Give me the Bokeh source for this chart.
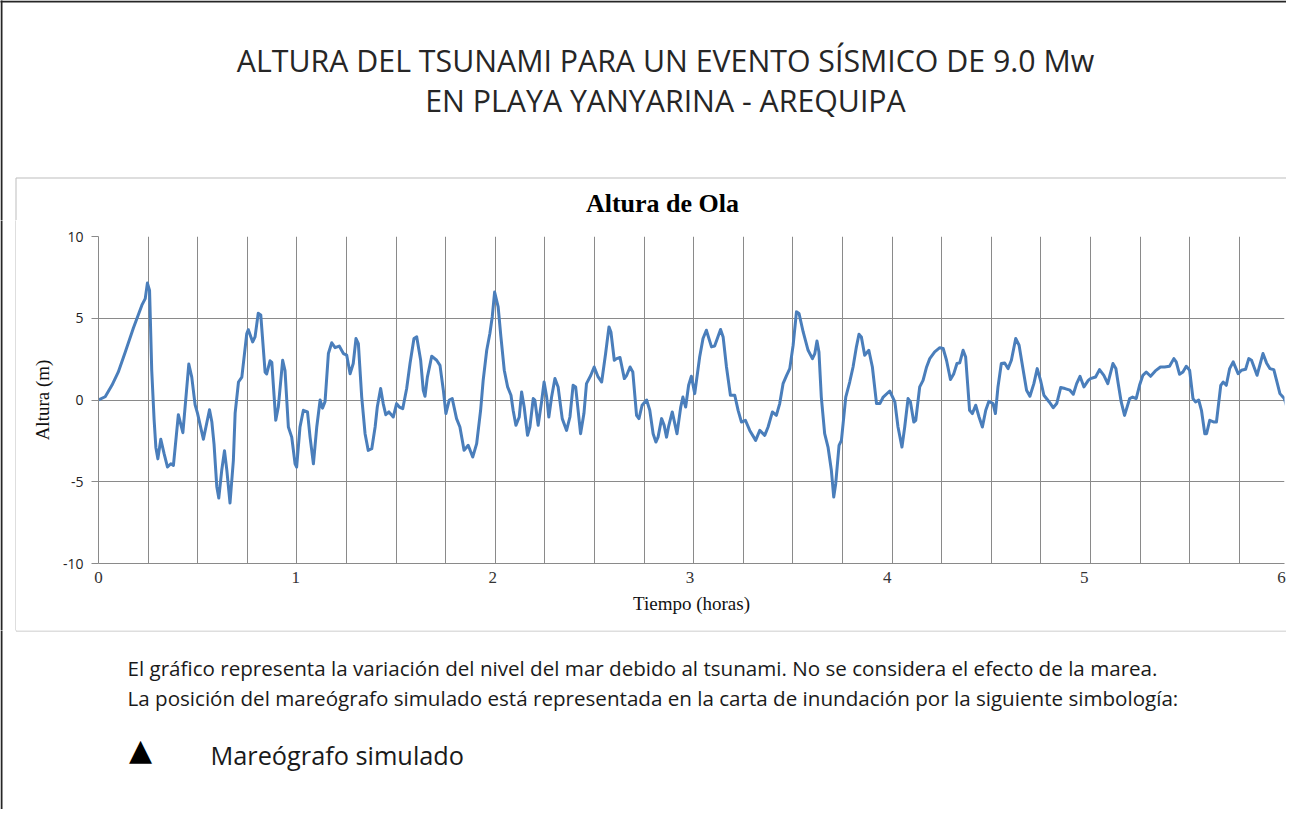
from bokeh.plotting import figure
from bokeh.layouts import column, row
from bokeh.models import Range1d, FixedTicker, Arrow
from bokeh.core.properties import value
from bokeh.embed import file_html
from bokeh.resources import INLINE

# ---------------- data ----------------
tiempo = [
    0.000, 0.034, 0.068, 0.100, 0.135, 0.177, 0.220, 0.237, 0.248, 0.259, 0.270, 0.282, 0.291, 0.301,
    0.316, 0.333, 0.350, 0.367, 0.380, 0.405, 0.428, 0.458, 0.473, 0.490, 0.502, 0.532, 0.563, 0.575,
    0.586, 0.600, 0.610, 0.625, 0.639, 0.651, 0.667, 0.684, 0.693, 0.710, 0.727, 0.752, 0.760, 0.782,
    0.794, 0.810, 0.823, 0.845, 0.853, 0.870, 0.879, 0.899, 0.912, 0.934, 0.946, 0.963, 0.980, 0.997,
    1.005, 1.022, 1.039, 1.060, 1.073, 1.090, 1.107, 1.124, 1.136, 1.149, 1.166, 1.183, 1.200, 1.221,
    1.242, 1.259, 1.276, 1.292, 1.306, 1.318, 1.335, 1.352, 1.368, 1.386, 1.403, 1.414, 1.431, 1.444,
    1.457, 1.473, 1.495, 1.512, 1.526, 1.543, 1.563, 1.580, 1.600, 1.614, 1.634, 1.647, 1.656, 1.668,
    1.690, 1.715, 1.732, 1.749, 1.762, 1.779, 1.794, 1.816, 1.833, 1.854, 1.875, 1.898, 1.918, 1.938,
    1.951, 1.969, 1.985, 1.997, 2.009, 2.027, 2.041, 2.058, 2.075, 2.092, 2.103, 2.117, 2.134, 2.146,
    2.159, 2.176, 2.188, 2.205, 2.213, 2.230, 2.247, 2.260, 2.273, 2.284, 2.298, 2.315, 2.331, 2.352,
    2.374, 2.391, 2.407, 2.420, 2.445, 2.462, 2.475, 2.497, 2.514, 2.534, 2.552, 2.572, 2.589, 2.599,
    2.616, 2.628, 2.645, 2.667, 2.679, 2.696, 2.710, 2.729, 2.741, 2.757, 2.780, 2.796, 2.813, 2.827,
    2.838, 2.856, 2.869, 2.881, 2.891, 2.910, 2.934, 2.953, 2.964, 2.978, 2.993, 3.007, 3.024, 3.049,
    3.066, 3.083, 3.109, 3.125, 3.155, 3.168, 3.185, 3.205, 3.227, 3.244, 3.261, 3.281, 3.303, 3.333,
    3.354, 3.379, 3.396, 3.418, 3.438, 3.455, 3.472, 3.490, 3.506, 3.523, 3.540, 3.553, 3.574, 3.599,
    3.621, 3.633, 3.644, 3.654, 3.666, 3.683, 3.700, 3.717, 3.729, 3.739, 3.756, 3.768, 3.790, 3.810,
    3.827, 3.844, 3.857, 3.869, 3.886, 3.907, 3.925, 3.946, 3.963, 3.980, 4.013, 4.039, 4.055, 4.075,
    4.089, 4.106, 4.118, 4.135, 4.145, 4.165, 4.182, 4.200, 4.216, 4.241, 4.267, 4.284, 4.301, 4.321,
    4.338, 4.354, 4.368, 4.385, 4.398, 4.418, 4.432, 4.449, 4.466, 4.483, 4.500, 4.516, 4.537, 4.549,
    4.562, 4.579, 4.596, 4.613, 4.630, 4.652, 4.669, 4.690, 4.707, 4.724, 4.744, 4.761, 4.778, 4.795,
    4.822, 4.842, 4.860, 4.880, 4.902, 4.927, 4.944, 4.961, 4.978, 4.998, 5.020, 5.031, 5.057, 5.077,
    5.099, 5.119, 5.145, 5.160, 5.172, 5.187, 5.204, 5.230, 5.245, 5.263, 5.280, 5.297, 5.314, 5.336,
    5.360, 5.386, 5.407, 5.432, 5.454, 5.466, 5.483, 5.500, 5.517, 5.534, 5.551, 5.564, 5.580, 5.594,
    5.611, 5.620, 5.636, 5.658, 5.670, 5.692, 5.704, 5.720, 5.737, 5.755, 5.780, 5.797, 5.818, 5.834,
    5.848, 5.876, 5.906, 5.924, 5.941, 5.961, 5.975, 5.992, 6.014, 6.030,
]
altura = [
    0.00, 0.20, 0.90, 1.70, 2.90, 4.40, 5.80, 6.20, 7.15, 6.70, 1.80, -1.20, -2.90, -3.60,
    -2.40, -3.30, -4.10, -3.90, -4.00, -0.90, -2.00, 2.20, 1.40, -0.30, -0.80, -2.40, -0.60, -1.35,
    -2.70, -5.30, -6.00, -4.30, -3.10, -4.30, -6.30, -3.70, -0.80, 1.10, 1.40, 4.07, 4.30, 3.55,
    3.86, 5.30, 5.20, 1.70, 1.60, 2.40, 2.30, -1.24, -0.43, 2.43, 1.80, -1.65, -2.27, -3.90,
    -4.10, -1.65, -0.63, -0.73, -2.27, -3.90, -1.65, 0.00, -0.50, -0.10, 2.84, 3.50, 3.20, 3.30,
    2.84, 2.74, 1.60, 2.23, 3.76, 3.45, 0.18, -2.06, -3.08, -2.98, -1.65, -0.43, 0.70, -0.22,
    -0.90, -0.73, -1.04, -0.22, -0.43, -0.53, 0.70, 2.23, 3.76, 3.86, 2.43, 0.60, 0.23, 1.40,
    2.68, 2.43, 2.12, 0.60, -0.83, 0.00, 0.09, -1.14, -1.65, -3.08, -2.77, -3.49, -2.67, -0.63,
    1.20, 3.04, 4.07, 5.08, 6.60, 5.70, 3.86, 1.82, 0.80, 0.29, -0.63, -1.55, -1.04, 0.49,
    -0.43, -2.16, -1.65, 0.09, 0.00, -1.55, -0.12, 1.10, 0.18, -1.04, 0.18, 1.31, 0.80, -1.14,
    -1.86, -1.04, 0.90, 0.80, -2.06, -0.83, 1.00, 1.51, 2.02, 1.41, 1.10, 2.84, 4.47, 4.16,
    2.43, 2.53, 2.60, 1.31, 1.51, 2.02, 1.71, -0.94, -1.14, -0.32, 0.00, -0.63, -2.06, -2.57,
    -2.27, -1.14, -1.55, -2.27, -1.65, -0.73, -2.06, -0.43, 0.18, -0.43, 0.90, 1.45, 0.39, 2.63,
    3.76, 4.27, 3.25, 3.30, 4.31, 3.86, 2.02, 0.29, 0.29, -0.63, -1.35, -1.24, -1.86, -2.47,
    -1.86, -2.16, -1.65, -0.73, -0.94, -0.22, 1.00, 1.51, 1.92, 3.35, 5.39, 5.29, 4.16, 3.04,
    2.53, 2.84, 3.61, 2.94, 0.18, -2.06, -2.88, -4.30, -5.94, -5.12, -2.77, -2.47, 0.18, 1.10,
    2.02, 3.25, 4.02, 3.86, 2.74, 3.04, 2.02, -0.22, -0.22, 0.18, 0.55, -0.12, -1.65, -2.88,
    -1.65, 0.09, -0.12, -1.35, -1.24, 0.80, 1.20, 2.02, 2.53, 2.94, 3.20, 3.15, 2.43, 1.25,
    1.61, 2.23, 2.27, 3.04, 2.63, -0.63, -0.83, -0.32, -1.04, -1.65, -0.63, -0.08, -0.22, -0.83,
    0.80, 2.23, 2.27, 1.92, 2.43, 3.76, 3.35, 1.82, 0.60, 0.23, 1.00, 1.92, 1.20, 0.29,
    -0.12, -0.47, -0.22, 0.76, 0.70, 0.60, 0.35, 1.00, 1.45, 0.80, 1.20, 1.31, 1.41, 1.86,
    1.51, 1.00, 2.23, 1.92, 1.00, -0.12, -0.94, 0.09, 0.18, 0.09, 0.90, 1.51, 1.71, 1.45,
    1.78, 2.02, 2.02, 2.06, 2.53, 2.33, 1.57, 1.71, 2.06, 1.82, 0.09, -0.12, 0.00, -0.63,
    -2.06, -2.06, -1.24, -1.35, -1.35, 0.90, 1.10, 0.90, 1.92, 2.33, 1.61, 1.82, 1.88, 2.53,
    2.43, 1.51, 2.84, 2.27, 1.92, 1.86, 1.20, 0.39, 0.09, -0.53,
]
x_tick_values = [0, 1, 2, 3, 4, 5, 6]
x_tick_labels = ["0", "1", "2", "3", "4", "5", "6"]
y_tick_values = [-10, -5, 0, 5, 10]
y_tick_labels = ["-10", "-5", "0", "5", "10"]

titulo_1 = "ALTURA DEL TSUNAMI PARA UN EVENTO SÍSMICO DE 9.0 Mw"
titulo_2 = "EN PLAYA YANYARINA - AREQUIPA"
titulo_grafico = "Altura de Ola"
eje_x = "Tiempo (horas)"
eje_y = "Altura (m)"
nota_1 = "El gráfico representa la variación del nivel del mar debido al tsunami. No se considera el efecto de la marea."
nota_2 = "La posición del mareógrafo simulado está representada en la carta de inundación por la siguiente simbología:"
simbolo = "▲"
leyenda = "Mareógrafo simulado"

# ---------------- layout constants (pixels) ----------------
W = 1286
TOP_H = 220          # page rows 0..220
MID_H = 410          # page rows 220..630
BOT_H = 179          # page rows 630..809
STRIP_W = 16         # left strip of the middle band
BOX_GREY = "#bdbdbd"
PAGE_LINE = "#262626"


def text_panel(width, height, y_top):
    """Figure whose frame is the whole canvas, in page-pixel units (y downwards)."""
    f = figure(width=width, height=height, output_backend="svg", toolbar_location=None,
               x_range=Range1d(0, width), y_range=Range1d(y_top + height, y_top),
               x_axis_location=None, y_axis_location=None, min_border=0,
               frame_align=False)
    f.grid.visible = False
    f.outline_line_color = None
    f.background_fill_color = "white"
    f.border_fill_color = "white"
    return f


def edge(f, x0, y0, x1, y1, color, width):
    """A plain border segment (an Arrow annotation without heads)."""
    f.add_layout(Arrow(start=None, end=None, x_start=x0, y_start=y0, x_end=x1, y_end=y1,
                       line_color=color, line_width=width, line_alpha=1))


# ---- top band: page border, title, chart box top edge, chart title ----
top = text_panel(W, TOP_H, 0)
edge(top, -5, 1, W + 5, 1, PAGE_LINE, 2)                  # page top
edge(top, 1, -5, 1, TOP_H + 5, PAGE_LINE, 2)              # page left
edge(top, 15.5, 177.5, W + 5, 177.5, BOX_GREY, 1)         # chart box top
edge(top, 15.5, 177.5, 15.5, TOP_H + 5, BOX_GREY, 1)      # chart box left
top.text(x=[665, 665], y=[60, 100], text=[titulo_1, titulo_2], text_align="center",
         text_baseline="middle", text_font=value("Open Sans"), text_font_size="30.3px",
         text_color="#262626")
top.text(x=[662], y=[203], text=[titulo_grafico], text_align="center", text_baseline="middle",
         text_font=value("Liberation Serif"), text_font_style="bold", text_font_size="26px",
         text_color="#000000")

# ---- middle band: left strip with borders + the chart ----
strip = text_panel(STRIP_W, MID_H, 220)
edge(strip, 1, 215, 1, 220 + MID_H + 5, PAGE_LINE, 2)
edge(strip, 15.5, 215, 15.5, 220 + MID_H + 5, BOX_GREY, 1)

CW = W - STRIP_W                        # chart canvas width (page x 16..1286)
FL, FR = 98 - STRIP_W, 1284 - STRIP_W   # frame edges in chart canvas
FT, FB = 236 - 220, 563 - 220           # frame edges in chart canvas
PX_PER_H = (1281 - 98) / 6.0
X1 = (FR - FL) / PX_PER_H
GRID_STEP = 49.6 / PX_PER_H

p = figure(width=CW, height=MID_H, output_backend="svg", toolbar_location=None,
           x_range=Range1d(0, X1), y_range=Range1d(-10, 10),
           min_border_left=FL, min_border_right=CW - FR,
           min_border_top=FT, min_border_bottom=MID_H - FB, frame_align=False)
p.outline_line_color = None
p.background_fill_color = "white"
p.border_fill_color = "white"

grid_col = "#8a8a8a"
p.xgrid.ticker = FixedTicker(ticks=[i * GRID_STEP for i in range(24)])
p.xgrid.grid_line_color = grid_col
p.ygrid.ticker = FixedTicker(ticks=y_tick_values)
p.ygrid.grid_line_color = grid_col

xa = p.xaxis[0]
xa.ticker = FixedTicker(ticks=x_tick_values)
xa.major_label_overrides = dict(zip(x_tick_values, x_tick_labels))
xa.axis_line_color = grid_col
xa.major_tick_out = 0
xa.major_tick_in = 0
xa.minor_tick_out = 0
xa.minor_tick_in = 0
xa.major_label_standoff = 8
xa.major_label_text_font = "Liberation Serif"
xa.major_label_text_font_size = "17px"
xa.major_label_text_color = "#333333"
xa.axis_label = eje_x
xa.axis_label_text_font = "Liberation Serif"
xa.axis_label_text_font_style = "normal"
xa.axis_label_text_font_size = "19px"
xa.axis_label_text_color = "#111111"
xa.axis_label_standoff = 7

ya = p.yaxis[0]
ya.ticker = FixedTicker(ticks=y_tick_values)
ya.major_label_overrides = dict(zip(y_tick_values, y_tick_labels))
ya.axis_line_color = grid_col
ya.major_tick_out = 7
ya.major_tick_in = 0
ya.major_tick_line_color = grid_col
ya.minor_tick_out = 0
ya.minor_tick_in = 0
ya.major_label_standoff = 8
ya.major_label_text_font = "Open Sans"
ya.major_label_text_font_size = "14px"
ya.major_label_text_color = "#222222"
ya.axis_label = eje_y
ya.axis_label_text_font = "Liberation Serif"
ya.axis_label_text_font_style = "normal"
ya.axis_label_text_font_size = "19px"
ya.axis_label_text_color = "#111111"
ya.axis_label_standoff = 7

p.line(tiempo, altura, line_color="#4A7EBB", line_width=3, line_join="round")

# ---- bottom band: chart box bottom edge, notes, symbol ----
bot = text_panel(W, BOT_H, 630)
edge(bot, 1, 625, 1, 630 + BOT_H + 5, PAGE_LINE, 2)       # page left
edge(bot, 15.5, 625, 15.5, 630.5, BOX_GREY, 1)            # chart box left (end)
edge(bot, 15.5, 630.5, W + 5, 630.5, BOX_GREY, 1)         # chart box bottom
bot.text(x=[127, 127], y=[667, 697], text=[nota_1, nota_2], text_align="left",
         text_baseline="middle", text_font=value("Open Sans"), text_font_size="20.6px",
         text_color="#1a1a1a")
bot.text(x=[140], y=[749], text=[simbolo], text_align="center", text_baseline="middle",
         text_font=value("DejaVu Sans"), text_font_size="30px", text_color="#000000")
bot.text(x=[210], y=[754], text=[leyenda], text_align="left", text_baseline="middle",
         text_font=value("Open Sans"), text_font_size="25.3px", text_color="#1a1a1a")

layout = column(top, row(strip, p, spacing=0), bot, spacing=0)

open("out.html", "w").write(file_html(layout, INLINE))
